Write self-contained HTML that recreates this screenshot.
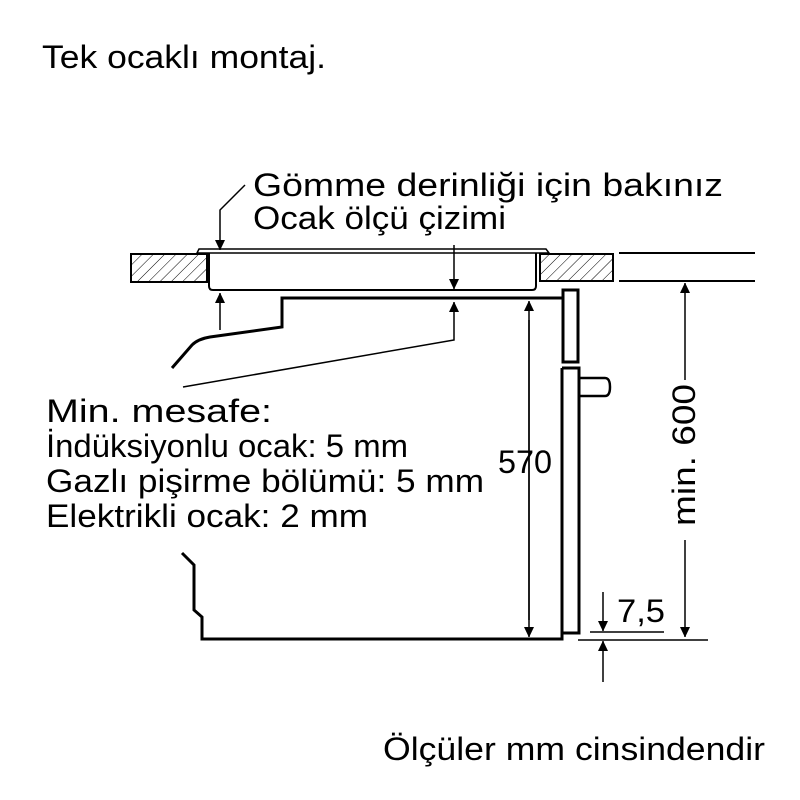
<!DOCTYPE html>
<html><head><meta charset="utf-8"><style>body{margin:0;background:#fff}svg{display:block}text{font-family:"Liberation Sans",Arial,sans-serif;fill:#000}</style></head><body>
<svg width="800" height="800" viewBox="0 0 800 800" xmlns="http://www.w3.org/2000/svg">
<defs>
<pattern id="h" patternUnits="userSpaceOnUse" width="8" height="8" patternTransform="rotate(45)"><line x1="0" y1="0" x2="0" y2="8" stroke="#000" stroke-width="1"/></pattern>
<marker id="a" markerWidth="10" markerHeight="14" refX="10" refY="5" orient="auto" markerUnits="userSpaceOnUse"><path d="M0,0 L14,5 L0,10Z" transform="scale(0.75,1)"/></marker>
</defs>
<g font-size="32" lengthAdjust="spacingAndGlyphs">
<text x="42" y="68" textLength="284" lengthAdjust="spacingAndGlyphs">Tek ocaklı montaj.</text>
<text x="253" y="196" textLength="470" lengthAdjust="spacingAndGlyphs">Gömme derinliği için bakınız</text>
<text x="253" y="229" textLength="253" lengthAdjust="spacingAndGlyphs">Ocak ölçü çizimi</text>
<text x="46" y="422" textLength="226" lengthAdjust="spacingAndGlyphs">Min. mesafe:</text>
<text x="46" y="457" textLength="362" lengthAdjust="spacingAndGlyphs">İndüksiyonlu ocak: 5 mm</text>
<text x="46" y="492" textLength="438" lengthAdjust="spacingAndGlyphs">Gazlı pişirme bölümü: 5 mm</text>
<text x="46" y="527" textLength="322" lengthAdjust="spacingAndGlyphs">Elektrikli ocak: 2 mm</text>
<text x="498" y="473" textLength="54" lengthAdjust="spacingAndGlyphs">570</text>
<text x="383" y="760" textLength="382" lengthAdjust="spacingAndGlyphs">Ölçüler mm cinsindendir</text>
<text transform="translate(695,455) rotate(-90)" text-anchor="middle" textLength="142" lengthAdjust="spacingAndGlyphs">min. 600</text>
<text x="617" y="622" textLength="48" lengthAdjust="spacingAndGlyphs">7,5</text>
</g>
<g fill="url(#h)" stroke="#000" stroke-width="2">
<rect x="131" y="254" width="76" height="28"/>
<rect x="540" y="254" width="73" height="27"/>
</g>
<g stroke="#000" fill="none">
<line x1="619" y1="253" x2="755" y2="253" stroke-width="2"/>
<line x1="619" y1="281" x2="755" y2="281" stroke-width="2"/>
<path d="M197,253 L199,249 L546,249 L549,253 Z" stroke-width="1.5" fill="#fff"/>
<path d="M209,253 L209,286 Q209,290 213,290 L532,290 Q536,290 536,286 L536,253" stroke-width="2"/>
<path d="M172,368 L192,345 Q198,339 210,337 L282,327 L282,298 L563,298" stroke-width="3"/>
<path d="M183,387 L454,340 L454,302" stroke-width="1.5" marker-end="url(#a)"/>
<line x1="454" y1="245" x2="454" y2="289" stroke-width="1.5" marker-end="url(#a)"/>
<line x1="220" y1="330" x2="220" y2="293" stroke-width="1.5" marker-end="url(#a)"/>
<path d="M245,185 L220,210 L220,250" stroke-width="1.5" marker-end="url(#a)"/>
<line x1="529" y1="320" x2="529" y2="637" stroke-width="1.5" marker-end="url(#a)"/>
<line x1="529" y1="620" x2="529" y2="301" stroke-width="1.5" marker-end="url(#a)"/>
<rect x="563" y="290" width="15" height="72" stroke-width="3"/>
<path d="M562,368 L562,639 L202,639 L202,617 L194,610 L194,565 L182,553" stroke-width="3"/>
<path d="M562,368 L579,368 L579,633 L563,633" stroke-width="3"/>
<path d="M579,378 L605,378 Q610,378 610,387 Q610,396 605,396 L579,396" stroke-width="2.5"/>
<line x1="685" y1="380" x2="685" y2="283" stroke-width="1.5" marker-end="url(#a)"/>
<line x1="685" y1="540" x2="685" y2="637" stroke-width="1.5" marker-end="url(#a)"/>
<line x1="590" y1="632" x2="664" y2="632" stroke-width="1.5"/>
<line x1="578" y1="640" x2="708" y2="640" stroke-width="1.5"/>
<line x1="603" y1="592" x2="603" y2="631" stroke-width="1.5" marker-end="url(#a)"/>
<line x1="603" y1="682" x2="603" y2="641" stroke-width="1.5" marker-end="url(#a)"/>
</g>
</svg>
</body></html>
